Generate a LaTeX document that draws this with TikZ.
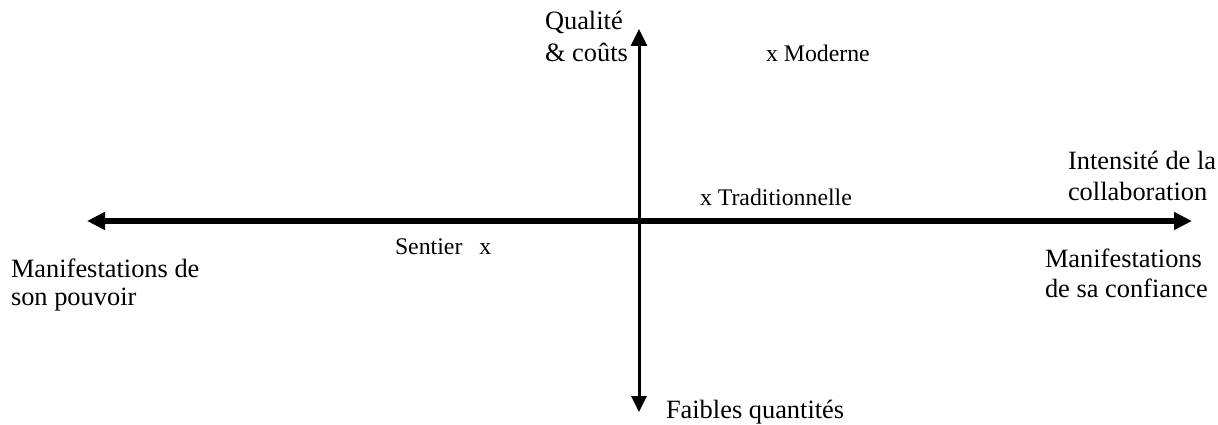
\documentclass[tikz,border=0pt]{standalone}
\usepackage{fontspec}
\setmainfont{Liberation Serif}
\usetikzlibrary{arrows.meta}
\tikzset{
  biglabel/.style={font=\fontsize{26.4}{30}\selectfont, anchor=base west, inner sep=0pt, outer sep=0pt},
  smalllabel/.style={font=\fontsize{23.8}{27}\selectfont, anchor=base west, inner sep=0pt, outer sep=0pt},
  haxis/.style={line width=5.5pt, {Triangle[length=18pt,width=17pt]}-{Triangle[length=18pt,width=17pt]}},
  vaxis/.style={line width=3pt, {Triangle[length=17pt,width=16pt]}-{Triangle[length=16pt,width=15pt]}}
}
\begin{document}
\begin{tikzpicture}[x=1pt,y=-1pt]
\useasboundingbox (0,0) rectangle (1218,425);
\coordinate (L) at (87,221);
\coordinate (R) at (1192,221);
\coordinate (T) at (639,29);
\coordinate (B) at (639,412);
\draw[haxis] (L) -- (R);
\draw[vaxis] (T) -- (B);
% vertical axis labels
\node[biglabel] (q1) at (545,30) {Qualité};
\node[biglabel] (q2) at (545,62) {\& coûts};
\node[biglabel] (fq) at (666,418) {Faibles quantités};
% horizontal axis labels
\node[biglabel] (i1) at (1068,169) {Intensité de la};
\node[biglabel] (i2) at (1068,200) {collaboration};
\node[biglabel] (mc1) at (1045,267) {Manifestations};
\node[biglabel] (mc2) at (1045,297) {de sa confiance};
\node[biglabel] (mp1) at (11,277) {Manifestations de};
\node[biglabel] (mp2) at (11,305) {son pouvoir};
% points
\node[smalllabel] (mod) at (766,62) {x Moderne};
\node[smalllabel] (trad) at (700,205) {x Traditionnelle};
\node[smalllabel] (sent) at (395,254) {Sentier\hspace{17pt}x};
\end{tikzpicture}
\end{document}
